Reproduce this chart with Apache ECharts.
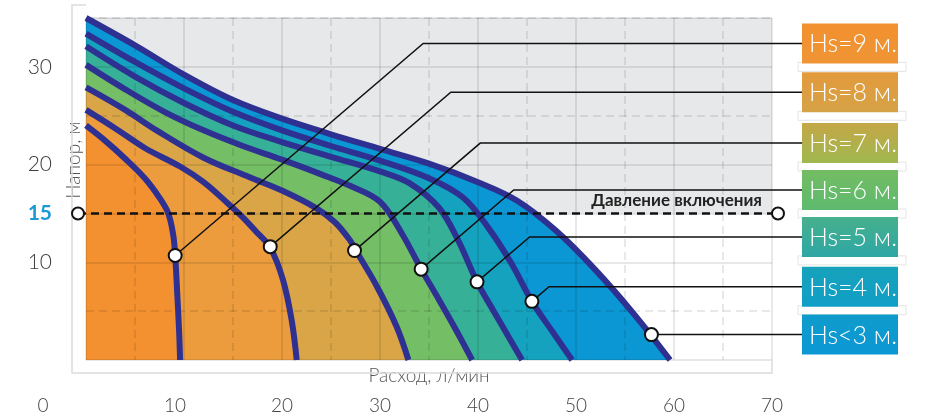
<!DOCTYPE html>
<html lang="ru">
<head>
<meta charset="UTF-8">
<title>Напорные характеристики</title>
<style>
  html, body { margin: 0; padding: 0; background: #fff; }
  #main { width: 930px; height: 416px; }
</style>
</head>
<body>
<div id="main"></div>
<script src="https://cdn.jsdelivr.net/npm/echarts@6/dist/echarts.min.js"></script>
<script>
// подписи осей
var xTickLabels = [0, 10, 20, 30, 40, 50, 60, 70];
var yTickLabels = [10, 20, 30];
var yMax = 35;
var switchPressure = 15;
var switchText = 'Давление включения';
var xName = 'Расход, л/мин';
var yName = 'Напор, м';

var hsNames = ['Hs=9 м.', 'Hs=8 м.', 'Hs=7 м.', 'Hs=6 м.', 'Hs=5 м.', 'Hs=4 м.', 'Hs<3 м.'];

// кривые [расход, напор]
var hs9 = [[0, 24], [2, 22.4], [4, 20.6], [6, 18.6], [7.5, 16.6], [8.4, 15], [8.9, 12.8], [9.1, 10.7], [9.3, 7], [9.5, 3], [9.6, 0]];
var hs8 = [[0, 25.6], [3, 23.7], [6, 21.7], [9.6, 19.8], [12, 18.2], [14.4, 16.1], [16, 14.6], [17.3, 13.2], [18.8, 11.5], [20.1, 8.2], [21, 4], [21.5, 0]];
var hs7 = [[0, 27.9], [4, 25.6], [7.2, 23.5], [12, 20.7], [16.7, 18.7], [20.1, 17.3], [23.4, 15.6], [25.4, 14.1], [26.9, 12.3], [27.6, 11.1], [29.7, 7.5], [31.7, 3.4], [32.9, 0]];
var hs6 = [[0, 30.2], [4, 27.7], [8, 25.4], [12, 23.5], [16, 21.9], [20, 20.5], [24, 19], [27, 17.8], [30, 16.2], [32.2, 13], [34.2, 9.3], [36, 6.2], [37.8, 3], [39.4, 0]];
var hs5 = [[0, 32.1], [5, 29], [10, 26.3], [15, 24], [20, 22.3], [25, 20.8], [30, 19.3], [33, 18.1], [36, 15.6], [38, 12.2], [39.9, 8], [41.6, 5], [43.1, 2.4], [44.5, 0]];
var hs4 = [[0, 33.4], [5, 30.5], [10, 27.8], [15, 25.4], [20, 23.5], [25, 21.9], [30, 20.4], [35, 18.6], [38.5, 16.6], [41, 13.6], [43.4, 9.9], [45.5, 6], [47.6, 2.9], [49.6, 0]];
var hs3 = [[0, 35], [5, 32.2], [10, 29.2], [15, 26.6], [20, 24.7], [25, 23.1], [30, 21.6], [35, 20.1], [40, 18.2], [44, 16.3], [48, 13.2], [52, 9.2], [56, 4.6], [59.6, 0]];
var curves = [hs9, hs8, hs7, hs6, hs5, hs4, hs3];

// точки выносок на кривых и уровень (напор) горизонтальной полки
var hsPoints = [[9.1, 10.7], [18.8, 11.6], [27.4, 11.2], [34.2, 9.3], [39.9, 8.0], [45.5, 6.0], [57.7, 2.6]];
var hsLevels = [32.4, 27.4, 22.2, 17.4, 12.6, 7.5, 2.6];

// цвета
var bandColors = ['#F39131', '#EC9B3D', '#D9A547', '#74BE66', '#36B197', '#14A2BE', '#0A97D4'];
var boxColors = [['#F2902F', '#EF9535'], ['#E29A3C', '#D6A247'], ['#C4A746', '#A0B850'], ['#74BC63', '#5DBA6E'], ['#47B08C', '#2DA7A5'], ['#17A2BB', '#0F9EC7'], ['#0F9CCB', '#0B97D4']];
var gridColor = 'rgba(0,0,0,0.12)';
var font = 'Lato, "Open Sans", sans-serif';

var chart = echarts.init(document.getElementById('main'));

var series = [];
// серый фон выше давления включения
series.push({
    type: 'line', data: [], z: 1, silent: true,
    markArea: {
        silent: true,
        itemStyle: { color: '#E7E8E9' },
        data: [[{ yAxis: switchPressure }, { yAxis: yMax }]]
    }
});
// заливка, от внешней кривой к внутренней
for (var i = curves.length - 1; i >= 0; i--) {
    series.push({
        type: 'line', data: curves[i], smooth: 0.35, symbol: 'none', silent: true, z: 2,
        lineStyle: { width: 0 },
        areaStyle: { color: bandColors[i], opacity: 1 }
    });
}
// сами кривые
for (var i = 0; i < curves.length; i++) {
    series.push({
        type: 'line', name: hsNames[i], data: curves[i], smooth: 0.35, symbol: 'none', silent: true, z: 4,
        lineStyle: { color: '#2E3192', width: 6 }
    });
}

var option = {
    animation: false,
    grid: { left: 86, right: 158, top: 18, bottom: 56, outerBoundsMode: 'none' },
    xAxis: {
        type: 'value', min: 0, max: 70, interval: 10, z: 3,
        axisLine: { show: false }, axisTick: { show: false },
        splitLine: { show: true, lineStyle: { color: gridColor, width: 1.5 } },
        minorTick: { show: false, splitNumber: 2 },
        minorSplitLine: { show: true, lineStyle: { color: gridColor, width: 1.5, type: [8, 5] } },
        name: xName, nameLocation: 'middle', nameGap: 6, nameMoveOverlap: false,
        nameTextStyle: { color: '#555', fontSize: 19, fontFamily: font, fontWeight: 300, verticalAlign: 'top' },
        axisLabel: {
            margin: 36, color: '#444', fontSize: 19, fontFamily: font, fontWeight: 300,
            formatter: function (v) {
                if (xTickLabels.indexOf(v) < 0) return '';
                if (v === 0) return '{z|' + v + '}';
                if (v === 10) return '{t|' + v + '}';
                return String(v);
            },
            rich: {
                z: { padding: [0, 86, 0, 0], color: '#444', fontSize: 19, fontFamily: font, fontWeight: 300 },
                t: { padding: [0, 18, 0, 0], color: '#444', fontSize: 19, fontFamily: font, fontWeight: 300 }
            }
        }
    },
    yAxis: [{
        type: 'value', min: 0, max: yMax, interval: 10, z: 3, position: 'left',
        axisLine: { show: false }, axisTick: { show: false },
        splitLine: { show: true, lineStyle: { color: gridColor, width: 1.5 } },
        name: yName, nameLocation: 'middle', nameGap: 3, nameMoveOverlap: false,
        nameTextStyle: { color: '#555', fontSize: 19, fontFamily: font, fontWeight: 300, padding: [0, 0, 0, 58] },
        axisLabel: {
            margin: 34, color: '#3c3c3c', fontSize: 21, fontFamily: font, fontWeight: 300,
            formatter: function (v) { return yTickLabels.indexOf(v) >= 0 ? String(v) : ''; }
        }
    }, {
        type: 'value', min: 0, max: yMax, interval: 5, z: 3, position: 'left',
        axisLine: { show: false }, axisTick: { show: false },
        splitLine: { show: true, lineStyle: { color: ['rgba(0,0,0,0)', gridColor], width: 1.5, type: [8, 5] } },
        axisLabel: {
            margin: 34, color: '#1A9AD7', fontSize: 21, fontWeight: 'bold', fontFamily: font,
            formatter: function (v) { return v === switchPressure ? String(v) : ''; }
        }
    }],
    series: series
};
chart.setOption(option);

// выноски, рамка, давление включения, подписи Hs
function px(p) { return chart.convertToPixel({ xAxisIndex: 0, yAxisIndex: 0 }, p); }
var o = px([0, 0]);
var c = px([70, yMax]);
var g = [];

g.push({
    type: 'polyline', z: 10, silent: true,
    shape: { points: [[o[0], c[1] - 13], [o[0] - 14, c[1] - 13], [o[0] - 14, o[1] + 13], [c[0], o[1] + 13], [c[0], o[1]]] },
    style: { stroke: '#DCDCDC', fill: null, lineWidth: 1.5 }
});

var sy = px([0, switchPressure])[1];
g.push({
    type: 'line', z: 11, silent: true,
    shape: { x1: o[0] - 8, y1: sy, x2: c[0] + 6, y2: sy },
    style: { stroke: '#111', lineWidth: 2.5, lineDash: [8, 5] }
});
[o[0] - 8, c[0] + 6].forEach(function (x) {
    g.push({ type: 'circle', z: 12, silent: true, shape: { cx: x, cy: sy, r: 6 }, style: { fill: '#fff', stroke: '#111', lineWidth: 2 } });
});
g.push({
    type: 'text', z: 12, silent: true, x: c[0] - 10, y: sy - 4,
    style: { text: switchText, fill: '#222', font: 'bold 17px ' + font, align: 'right', verticalAlign: 'bottom' }
});

var boxX = 802, boxW = 96, boxH = 40;
for (var i = 0; i < hsNames.length; i++) {
    var p = px(hsPoints[i]);
    var ly = px([0, hsLevels[i]])[1];
    var ex = p[0] + (p[1] - ly) / 0.855;
    g.push({
        type: 'polyline', z: 11, silent: true,
        shape: { points: [p, [ex, ly], [boxX, ly]] },
        style: { stroke: '#111', fill: null, lineWidth: 1.5 }
    });
    g.push({ type: 'circle', z: 12, silent: true, shape: { cx: p[0], cy: p[1], r: 6.5 }, style: { fill: '#fff', stroke: '#111', lineWidth: 2 } });
    if (i < hsNames.length - 1) {
        g.push({ type: 'rect', z: 10, silent: true, shape: { x: boxX - 4, y: ly + boxH / 2 - 1, width: boxW + 12, height: 9 }, style: { fill: '#fff', stroke: '#E4E4E4', lineWidth: 1 } });
    }
    g.push({
        type: 'rect', z: 11, silent: true,
        shape: { x: boxX, y: ly - boxH / 2, width: boxW, height: boxH },
        style: { fill: new echarts.graphic.LinearGradient(0, 0, 0, 1, [{ offset: 0, color: boxColors[i][0] }, { offset: 1, color: boxColors[i][1] }]) }
    });
    g.push({
        type: 'text', z: 12, silent: true, x: boxX + 7, y: ly + 1,
        style: { text: hsNames[i], fill: '#fff', font: '300 25px ' + font, verticalAlign: 'middle' }
    });
}
chart.setOption({ graphic: g });
</script>
</body>
</html>
